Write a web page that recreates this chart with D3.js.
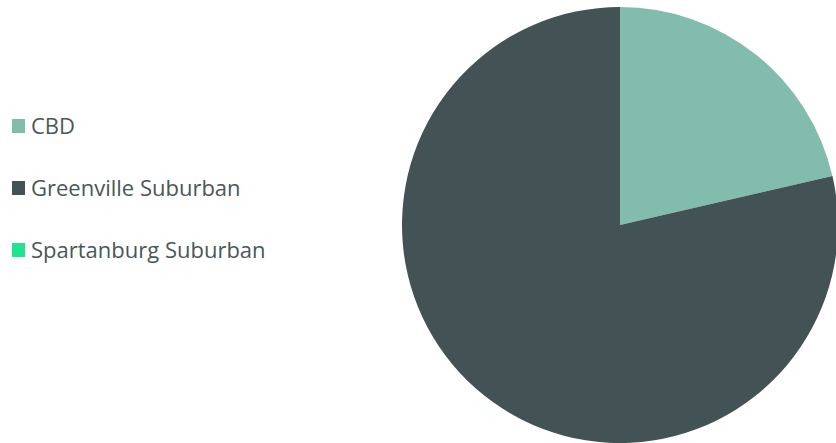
<!DOCTYPE html>
<html>
<head>
<meta charset="utf-8">
<script src="https://cdn.jsdelivr.net/npm/d3@7"></script>
<style>
  html, body { margin: 0; padding: 0; background: #fff; }
  svg { display: block; }
  .legend text { font-family: "Open Sans", Roboto, sans-serif; font-size: 22px; fill: #4a5759; }
</style>
</head>
<body>
<div class="chart"></div>
<script>
// data
var categories = ["CBD", "Greenville Suburban", "Spartanburg Suburban"];
var shares = [21.4, 78.6, 0];
var colors = ["#82bcad", "#435255", "#1ee38f"];

var w = 836, h = 443;

var svg = d3.select("div.chart")
            .append("svg")
            .attr("width", w)
            .attr("height", h);

var color = d3.scaleOrdinal().domain(categories).range(colors);

var pie = d3.pie().sort(null).value(d => d.value);
var radius = 218;
var arc = d3.arc().innerRadius(0).outerRadius(radius);

var data = categories.map((c, i) => ({ name: c, value: shares[i] }));

//pie
svg.append("g")
   .attr("transform", `translate(620, 225)`)
   .selectAll("path")
   .data(pie(data))
   .enter()
   .append("path")
     .attr("d", arc)
     .attr("fill", d => color(d.data.name));

//legend
var legendY = d3.scalePoint().domain(categories).range([126, 250]);

var items = svg.append("g")
               .attr("class", "legend")
               .selectAll("g")
               .data(categories)
               .enter()
               .append("g")
               .attr("transform", d => `translate(12, ${legendY(d)})`);

items.append("rect")
     .attr("y", -7)
     .attr("width", 13)
     .attr("height", 14)
     .attr("fill", d => color(d));

items.append("text")
     .attr("x", 19)
     .attr("y", 8)
     .text(d => d);
</script>
</body>
</html>
